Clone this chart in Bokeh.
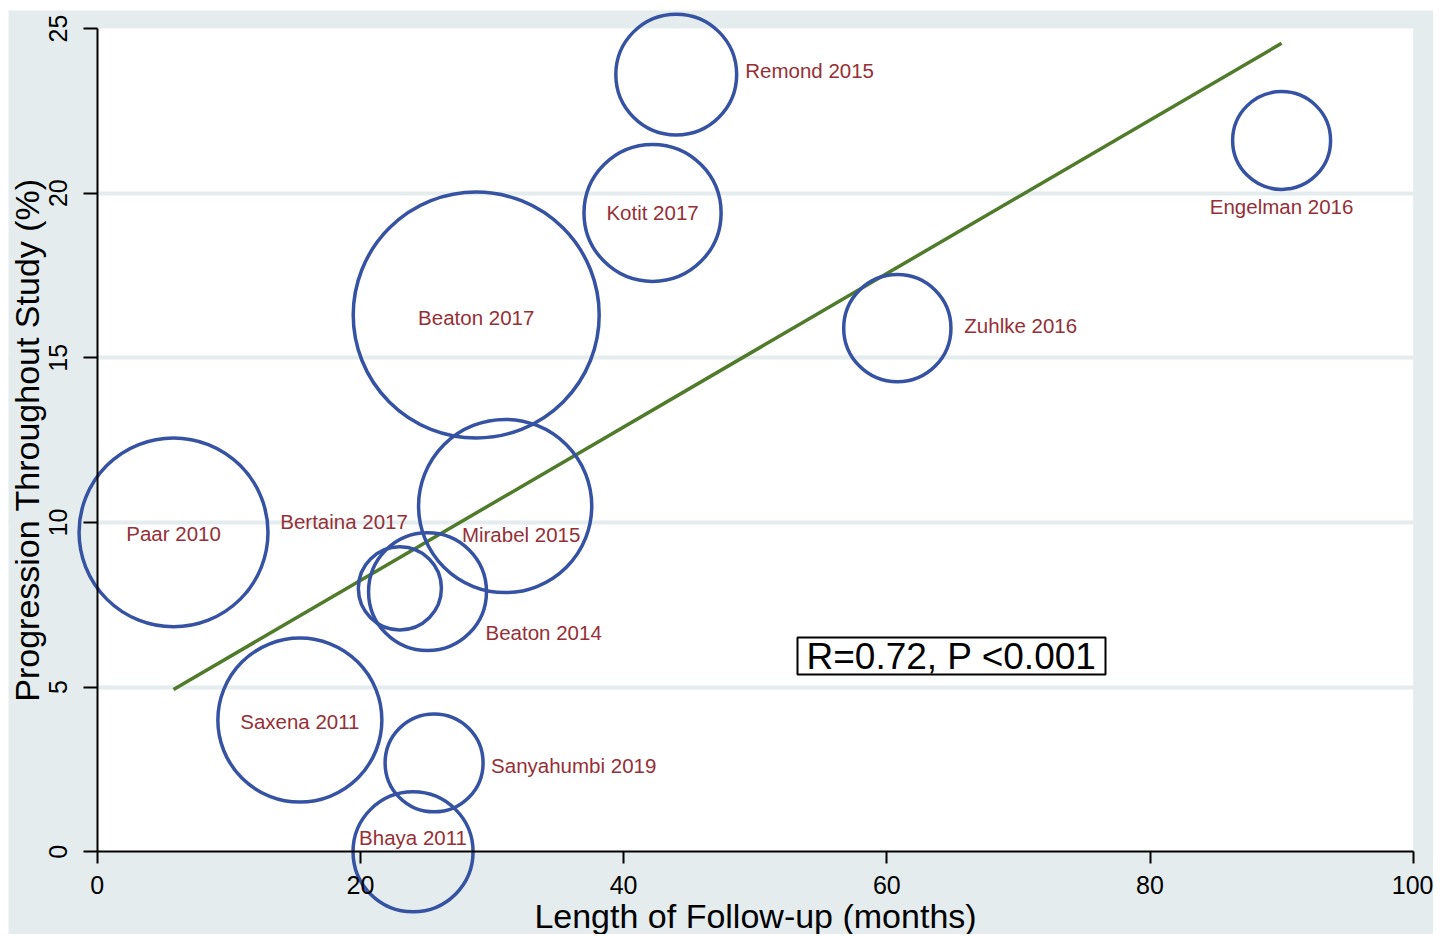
import math
from bokeh.plotting import figure
from bokeh.models import Range1d, FixedTicker, BoxAnnotation, Label, ColumnDataSource
from bokeh.core.properties import value
from bokeh.embed import file_html
from bokeh.resources import INLINE

# ---- data ----
studies = ["Remond 2015", "Kotit 2017", "Engelman 2016", "Beaton 2017", "Zuhlke 2016",
           "Paar 2010", "Mirabel 2015", "Bertaina 2017", "Beaton 2014", "Saxena 2011",
           "Sanyahumbi 2019", "Bhaya 2011"]
follow_up = [44.0, 42.2, 90.0, 28.8, 60.8, 5.8, 31.0, 23.0, 25.1, 15.4, 25.6, 24.0]
progression = [23.6, 19.4, 21.6, 16.3, 15.9, 9.7, 10.5, 8.0, 7.9, 4.0, 2.7, 0.0]
weights = [146, 188, 96, 605, 115, 357, 300, 69, 139, 269, 96, 144]

fit_x = [5.8, 90.0]
fit_y = [4.93, 24.55]

x_ticks = [0, 20, 40, 60, 80, 100]
y_ticks = [0, 5, 10, 15, 20, 25]
grid_ticks = [5, 10, 15, 20]

# label placement (pixel offsets from bubble centre, alignment)
label_dx = [69, 0, 0, 0, 67, 0, 16, 8, 58, 0, 57, 0]
label_dy = [-4, 0, 66, 2, -3, 1, 28, -67, 41, 1, 3, -14]
label_align = ["left", "center", "center", "center", "left", "center", "center",
               "right", "left", "center", "left", "center"]

BG = "#e4ecee"
BLUE = "#3552a3"
RED = "#962f36"
GREEN = "#4f7b2a"
FONT = "Liberation Sans"

LEFT = 8          # page x of figure left edge
W, H = 1433 - LEFT, 924
X0 = 96.7 - LEFT  # figure px of x = 0
X1 = 1412.7 - LEFT
sx = (X1 - X0) / 100.0
sy = (841.3 - 18.0) / 25.0
x_range = Range1d(-X0 / sx, 100 + (W - X1) / sx)
y_range = Range1d(-(H - 841.3) / sy, 25 + 18.0 / sy)

p = figure(width=W, height=H, x_range=x_range, y_range=y_range,
           output_backend="svg", toolbar_location=None, min_border=0,
           background_fill_color=BG, border_fill_color=BG)
p.margin = (10, 0, 0, LEFT)
p.outline_line_color = None

# white plot region
p.add_layout(BoxAnnotation(left=0, right=100, bottom=0, top=25, fill_color="white",
                           fill_alpha=1, line_color=None, level="image"))

# grid
p.xgrid.visible = False
p.ygrid.ticker = FixedTicker(ticks=grid_ticks)
p.ygrid.grid_line_color = BG
p.ygrid.grid_line_width = 4
p.ygrid.bounds = (0, 100)

# axes
for ax in (p.xaxis, p.yaxis):
    ax.axis_line_color = "black"
    ax.axis_line_width = 2
    ax.major_tick_line_color = "black"
    ax.major_tick_line_width = 2
    ax.major_tick_in = 0
    ax.minor_tick_line_color = None
    ax.major_label_text_font = FONT
    ax.major_label_text_font_size = "25px"
    ax.major_label_text_color = "black"
    ax.axis_label_text_font = FONT
    ax.axis_label_text_font_size = "34px"
    ax.axis_label_text_font_style = "normal"
    ax.axis_label_text_color = "black"
    ax.fixed_location = 0

p.xaxis.ticker = FixedTicker(ticks=x_ticks)
p.xaxis.bounds = (0, 100)
p.xaxis.major_tick_out = 12
p.xaxis.major_label_standoff = 12
p.xaxis.axis_label = "Length of Follow-up (months)"
p.xaxis.axis_label_standoff = 0

p.yaxis.ticker = FixedTicker(ticks=y_ticks)
p.yaxis.bounds = (0, 25)
p.yaxis.major_tick_out = 14
p.yaxis.major_label_standoff = 16
p.yaxis.major_label_orientation = "vertical"
p.yaxis.axis_label = "Progression Throughout Study (%)"
p.yaxis.axis_label_standoff = 1

src = ColumnDataSource(dict(
    x=follow_up, y=progression, name=studies,
    size=[10 * math.sqrt(w) for w in weights],
    dx=label_dx, dy=label_dy, align=label_align,
))

# fitted line
p.line(fit_x, fit_y, line_color=GREEN, line_width=3.5)

# bubbles
p.scatter("x", "y", size="size", source=src, marker="circle",
          fill_color=None, line_color=BLUE, line_width=3.5)

# marker labels
p.text("x", "y", text="name", source=src, x_offset="dx", y_offset="dy",
       text_align="align", text_baseline="middle",
       text_font=value(FONT), text_font_size="20.5px", text_color=RED)

# R / P box
p.add_layout(BoxAnnotation(left=(797 - 96.7) / sx, right=(1105 - 96.7) / sx,
                           bottom=(851.3 - 674) / sy, top=(851.3 - 637) / sy,
                           fill_color="white", fill_alpha=1,
                           line_color="black", line_alpha=1, line_width=2))
p.add_layout(Label(x=(951 - 96.7) / sx, y=(851.3 - 655.5) / sy, text="R=0.72, P <0.001",
                   text_align="center", text_baseline="middle",
                   text_font=FONT, text_font_size="37px", text_color="black"))

open("out.html", "w").write(file_html(p, INLINE))
